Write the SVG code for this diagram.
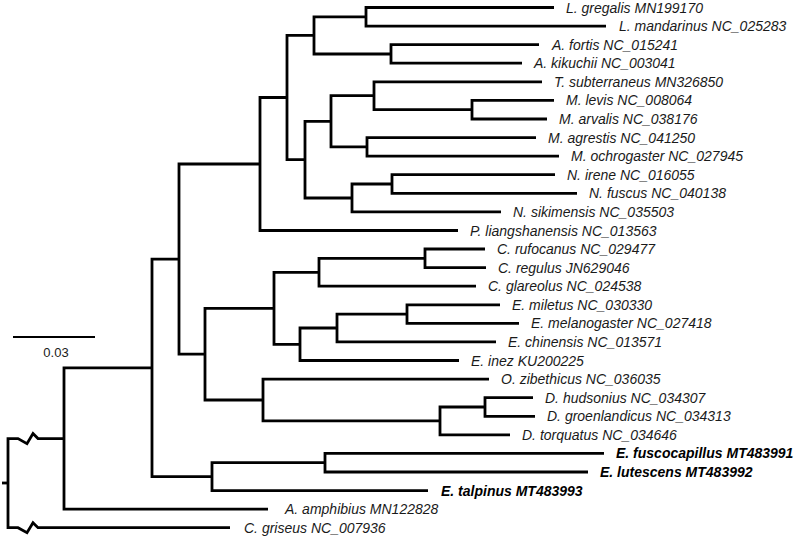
<svg xmlns="http://www.w3.org/2000/svg" width="800" height="539" viewBox="0 0 800 539">
<style>
.br{fill:none;stroke:#000;stroke-width:2.8;stroke-linejoin:miter;stroke-linecap:butt}
.lb{font-family:"Liberation Sans",Arial,sans-serif;font-size:14px;font-style:italic;fill:#1a1a1a}
.bd{font-weight:bold;fill:#000}
.sc{font-family:"Liberation Sans",Arial,sans-serif;font-size:13px;fill:#1a1a1a}
</style>
<rect width="800" height="539" fill="#fff"/>
<g id="connectors">
<path class="br" d="M554 7.5H366V26.1H606"/>
<path class="br" d="M539 44.7H391V63.2H522"/>
<path class="br" d="M366 16.8H314V54H391"/>
<path class="br" d="M554 100.4H472V119H547"/>
<path class="br" d="M542 81.8H374V109.7H472"/>
<path class="br" d="M536 137.6H367V156.1H559"/>
<path class="br" d="M374 95.7H331V146.9H367"/>
<path class="br" d="M555 174.7H392V193.3H577"/>
<path class="br" d="M392 184H352V211.9H501"/>
<path class="br" d="M331 121.3H305V198H352"/>
<path class="br" d="M314 35.4H287V159.6H305"/>
<path class="br" d="M287 97.5H260V230.5H458"/>
<path class="br" d="M485 249H425V267.6H486"/>
<path class="br" d="M425 258.3H319V286.2H476"/>
<path class="br" d="M500 304.8H407V323.4H519"/>
<path class="br" d="M407 314.1H337V341.9H496"/>
<path class="br" d="M337 328H300V360.5H459"/>
<path class="br" d="M319 272.3H274V344.3H300"/>
<path class="br" d="M533 397.7H485V416.3H535"/>
<path class="br" d="M485 407H440V434.8H510"/>
<path class="br" d="M489 379.1H263V420.9H440"/>
<path class="br" d="M274 308.3H205V400H263"/>
<path class="br" d="M260 164H179V354.2H205"/>
<path class="br" d="M604 453.4H325V472H588"/>
<path class="br" d="M325 462.7H212V490.6H428"/>
<path class="br" d="M179 259.1H152V476.7H212"/>
<path class="br" d="M152 367.9H64V509.2H268"/>
<path class="br" d="M64 438.6H38L33 433.6L27 443.6L18 438.6H8V527.7H18L27 532.7L33 522.7L38 527.7H230"/>
<path class="br" d="M2 483H8"/>
</g>
<g id="scale">
<path d="M13 337H95" stroke="#000" stroke-width="2"/>
<text class="sc" x="56" y="357" text-anchor="middle">0.03</text>
</g>
<g id="leaf-L-gregalis"><text class="lb" x="566" y="12.5">L. gregalis MN199170</text></g>
<g id="leaf-L-mandarinus"><text class="lb" x="619" y="31.1">L. mandarinus NC_025283</text></g>
<g id="leaf-A-fortis"><text class="lb" x="552" y="49.7">A. fortis NC_015241</text></g>
<g id="leaf-A-kikuchii"><text class="lb" x="534" y="68.2">A. kikuchii NC_003041</text></g>
<g id="leaf-T-subterraneus"><text class="lb" x="554" y="86.8">T. subterraneus MN326850</text></g>
<g id="leaf-M-levis"><text class="lb" x="566" y="105.4">M. levis NC_008064</text></g>
<g id="leaf-M-arvalis"><text class="lb" x="559" y="124">M. arvalis NC_038176</text></g>
<g id="leaf-M-agrestis"><text class="lb" x="548" y="142.6">M. agrestis NC_041250</text></g>
<g id="leaf-M-ochrogaster"><text class="lb" x="571" y="161.1">M. ochrogaster NC_027945</text></g>
<g id="leaf-N-irene"><text class="lb" x="567" y="179.7">N. irene NC_016055</text></g>
<g id="leaf-N-fuscus"><text class="lb" x="589" y="198.3">N. fuscus NC_040138</text></g>
<g id="leaf-N-sikimensis"><text class="lb" x="513" y="216.9">N. sikimensis NC_035503</text></g>
<g id="leaf-P-liangshanensis"><text class="lb" x="470" y="235.5">P. liangshanensis NC_013563</text></g>
<g id="leaf-C-rufocanus"><text class="lb" x="497" y="254">C. rufocanus NC_029477</text></g>
<g id="leaf-C-regulus"><text class="lb" x="498" y="272.6">C. regulus JN629046</text></g>
<g id="leaf-C-glareolus"><text class="lb" x="488" y="291.2">C. glareolus NC_024538</text></g>
<g id="leaf-E-miletus"><text class="lb" x="512" y="309.8">E. miletus NC_030330</text></g>
<g id="leaf-E-melanogaster"><text class="lb" x="531" y="328.4">E. melanogaster NC_027418</text></g>
<g id="leaf-E-chinensis"><text class="lb" x="508" y="346.9">E. chinensis NC_013571</text></g>
<g id="leaf-E-inez"><text class="lb" x="471" y="365.5">E. inez KU200225</text></g>
<g id="leaf-O-zibethicus"><text class="lb" x="501" y="384.1">O. zibethicus NC_036035</text></g>
<g id="leaf-D-hudsonius"><text class="lb" x="545" y="402.7">D. hudsonius NC_034307</text></g>
<g id="leaf-D-groenlandicus"><text class="lb" x="547" y="421.3">D. groenlandicus NC_034313</text></g>
<g id="leaf-D-torquatus"><text class="lb" x="522" y="439.8">D. torquatus NC_034646</text></g>
<g id="leaf-E-fuscocapillus"><text class="lb bd" x="616" y="458.4">E. fuscocapillus MT483991</text></g>
<g id="leaf-E-lutescens"><text class="lb bd" x="600" y="477">E. lutescens MT483992</text></g>
<g id="leaf-E-talpinus"><text class="lb bd" x="441" y="495.6">E. talpinus MT483993</text></g>
<g id="leaf-A-amphibius"><text class="lb" x="285" y="514.2">A. amphibius MN122828</text></g>
<g id="leaf-C-griseus"><text class="lb" x="244" y="532.7">C. griseus NC_007936</text></g>
</svg>
